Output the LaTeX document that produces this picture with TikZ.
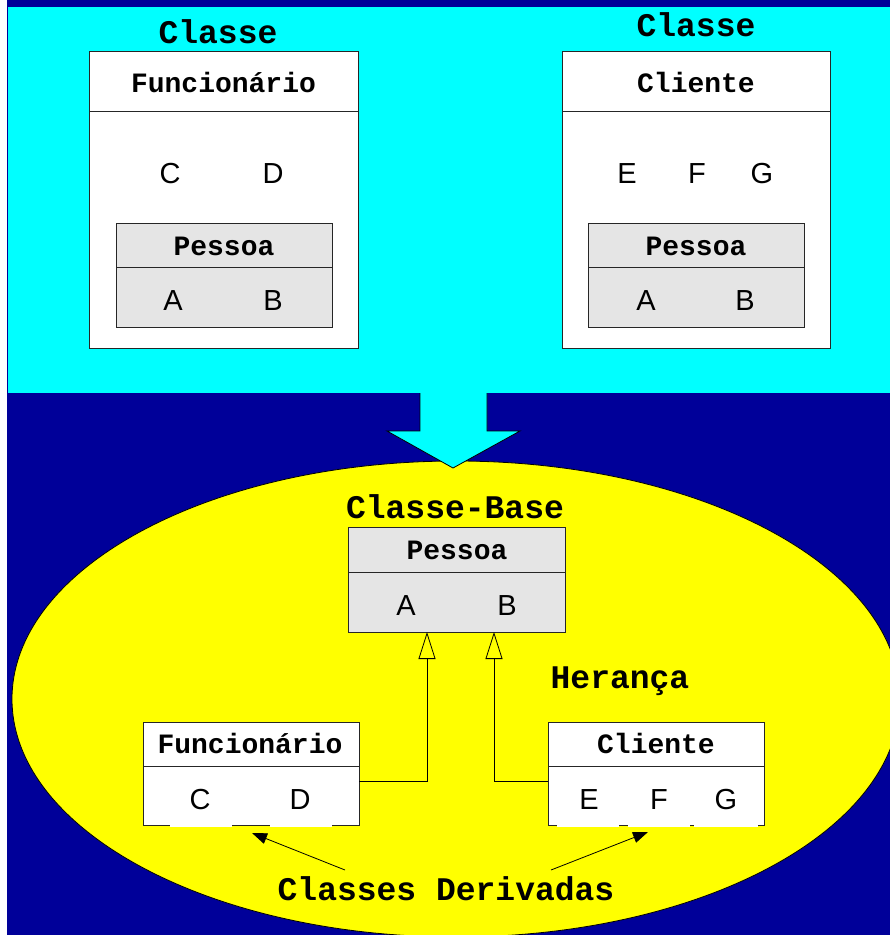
\documentclass[tikz,border=0pt]{standalone}
\usepackage{fontspec}
\setmainfont{Liberation Sans}
\newfontfamily\monofam{Liberation Mono}
\usetikzlibrary{arrows.meta,calc}
\definecolor{bgnavy}{RGB}{0,0,153}
\definecolor{bgcyan}{RGB}{0,255,255}
\definecolor{bgyellow}{RGB}{255,255,0}
\definecolor{boxgray}{RGB}{229,229,229}
\tikzset{
  classbox/.style={draw=black!85, line width=0.8pt, inner sep=0pt, outer sep=0pt},
  bigtitle/.style={font=\monofam\bfseries\fontsize{33}{36}\selectfont, anchor=base, inner sep=0pt},
  hdr/.style={font=\monofam\bfseries\fontsize{28}{30}\selectfont, anchor=base, inner sep=0pt},
  attr/.style={font=\fontsize{29}{32}\selectfont, anchor=base, inner sep=0pt},
  divider/.style={draw=black!85, line width=0.8pt},
  inherit/.style={line width=0.8pt, -{Triangle[open,length=27pt,width=17pt,line width=0.8pt]}},
  pointer/.style={line width=0.8pt, -{Triangle[length=15pt,width=11pt]}},
}
\begin{document}
\begin{tikzpicture}[x=1pt,y=-1pt]
\useasboundingbox (0,0) rectangle (890,935);
\clip (0,0) rectangle (890,935);
\fill[white] (0,0) rectangle (890,935);
\fill[bgnavy] (7,0) rectangle (890,935);
\fill[bgcyan] (8,7) rectangle (890,393);
% ellipse
\draw[fill=bgyellow, line width=0.8pt] (456,699) ellipse [x radius=444pt, y radius=238pt];
% big arrow
\fill[bgcyan] (420,392) -- (420,431) -- (387,431) -- (453,468) -- (520,431) -- (487,431) -- (487,392) -- cycle;
\draw[line width=0.8pt] (420,393) -- (420,431) -- (387,431) -- (453,468) -- (520,431) -- (487,431) -- (487,393);

% top titles
\node[bigtitle] (t1) at (218,43) {Classe};
\node[bigtitle] (t2) at (696,36) {Classe};

% top left class
\node[classbox, fill=white, minimum width=269pt, minimum height=297pt] (topF) at (223.5,199.5) {};
\draw[divider] ($(topF.north west)+(0,60)$) -- ($(topF.north east)+(0,60)$);
\node[hdr] (topFh) at (223.5,92) {Funcionário};
\node[attr] (topFc) at (170,183.5) {C};
\node[attr] (topFd) at (273,183.5) {D};
\node[classbox, fill=boxgray, minimum width=216pt, minimum height=104pt] (topFP) at (224,275) {};
\draw[divider] ($(topFP.north west)+(0,44)$) -- ($(topFP.north east)+(0,44)$);
\node[hdr] (topFPh) at (224,255) {Pessoa};
\node[attr] (topFPa) at (173,310) {A};
\node[attr] (topFPb) at (273,310) {B};

% top right class
\node[classbox, fill=white, minimum width=268pt, minimum height=297pt] (topC) at (696,199.5) {};
\draw[divider] ($(topC.north west)+(0,60)$) -- ($(topC.north east)+(0,60)$);
\node[hdr] (topCh) at (696,92) {Cliente};
\node[attr] (topCe) at (627,183.5) {E};
\node[attr] (topCf) at (697,183.5) {F};
\node[attr] (topCg) at (762,183.5) {G};
\node[classbox, fill=boxgray, minimum width=216pt, minimum height=104pt] (topCP) at (696,275) {};
\draw[divider] ($(topCP.north west)+(0,44)$) -- ($(topCP.north east)+(0,44)$);
\node[hdr] (topCPh) at (696,255) {Pessoa};
\node[attr] (topCPa) at (646,310) {A};
\node[attr] (topCPb) at (745,310) {B};

% base class
\node[bigtitle] (cb) at (455,518) {Classe-Base};
\node[classbox, fill=boxgray, minimum width=217pt, minimum height=105pt] (base) at (456.5,579.5) {};
\draw[divider] ($(base.north west)+(0,45)$) -- ($(base.north east)+(0,45)$);
\node[hdr] (baseh) at (457,559) {Pessoa};
\node[attr] (basea) at (406,615) {A};
\node[attr] (baseb) at (507,615) {B};

\node[bigtitle] (her) at (620,688) {Herança};

% derived classes
\node[classbox, fill=white, minimum width=216pt, minimum height=103pt] (botF) at (251,773.5) {};
\draw[divider] ($(botF.north west)+(0,44)$) -- ($(botF.north east)+(0,44)$);
\node[hdr] (botFh) at (250,753) {Funcionário};
\fill[white] (170,821) rectangle (232,826.5);
\fill[white] (270,821) rectangle (332,826.5);
\node[attr] (botFc) at (200,809) {C};
\node[attr] (botFd) at (300,809) {D};

\node[classbox, fill=white, minimum width=216pt, minimum height=103pt] (botC) at (656,773.5) {};
\draw[divider] ($(botC.north west)+(0,44)$) -- ($(botC.north east)+(0,44)$);
\node[hdr] (botCh) at (656,753) {Cliente};
\fill[white] (557,821) rectangle (619,826.5);
\fill[white] (628,821) rectangle (690,826.5);
\fill[white] (694,821) rectangle (758,826.5);
\node[attr] (botCe) at (589,809) {E};
\node[attr] (botCf) at (659,809) {F};
\node[attr] (botCg) at (726,809) {G};

% inheritance connectors
\coordinate (baseL) at ($(base.south west)+(79,0)$);
\coordinate (baseR) at ($(base.south west)+(146,0)$);
\draw[inherit] ($(botF.east)+(0,7.5)$) -| (baseL);
\draw[inherit] ($(botC.west)+(0,7.5)$) -| (baseR);

% label and pointers
\node[bigtitle] (cd) at (446,900) {Classes Derivadas};
\coordinate (cdL) at (345,870);
\coordinate (cdR) at (551,870);
\coordinate (tipL) at ($(botF.south)+(1,8)$);
\coordinate (tipR) at ($(botC.south)+(-8,7)$);
\draw[pointer] (cdL) -- (tipL);
\draw[pointer] (cdR) -- (tipR);
\end{tikzpicture}
\end{document}
